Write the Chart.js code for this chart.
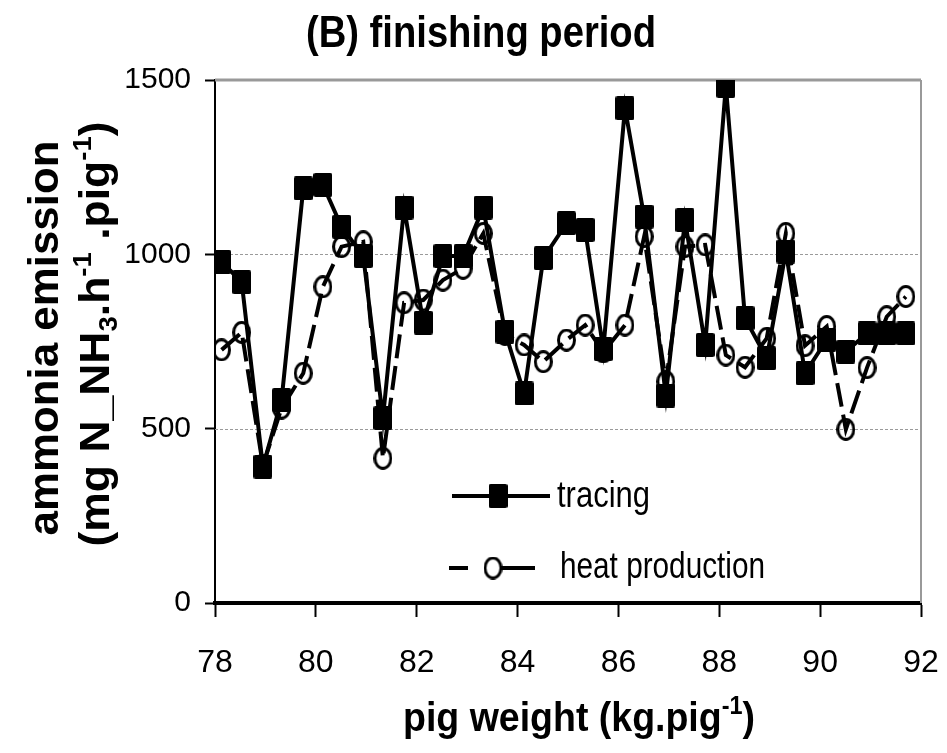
<!DOCTYPE html>
<html>
<head>
<meta charset="utf-8">
<script src="https://cdn.jsdelivr.net/npm/chart.js@4.4.1/dist/chart.umd.min.js"></script>
<style>
html,body{margin:0;padding:0;background:#fff;}
#wrap{position:relative;width:947px;height:753px;}
</style>
</head>
<body>
<div id="wrap"><canvas id="c" width="947" height="753"></canvas></div>
<script>
// ---- data ----
const weights = [78.13,78.53,78.95,79.32,79.75,80.14,80.51,80.94,81.33,81.75,82.13,82.52,82.92,83.32,83.75,84.13,84.51,84.97,85.34,85.70,86.13,86.51,86.94,87.32,87.72,88.13,88.51,88.94,89.32,89.70,90.13,90.51,90.93,91.32,91.70];
const tracing = [979,920,391,582,1189,1199,1079,995,530,1134,804,995,995,1134,778,601,989,1089,1070,728,1419,1108,595,1098,740,1483,817,702,1008,659,755,721,773,773,773];
const heatProduction = [726,776,395,559,659,907,1022,1036,415,861,869,926,960,1060,770,740,692,754,797,720,797,1051,635,1022,1027,711,676,759,1060,738,793,498,675,821,879];
const xTickValues = [78,80,82,84,86,88,90,92];
const yTickValues = [0,500,1000,1500];
const seriesNames = ['tracing','heat production'];
const titleText = '(B) finishing period';

const SANS = '"Liberation Sans", Arial, sans-serif';

// ---- marker images ----
function squareMarker(w,h){
  const c=document.createElement('canvas'); c.width=w; c.height=h;
  const g=c.getContext('2d'); g.fillStyle='#000';
  const r=2; g.beginPath();
  g.moveTo(r,0); g.lineTo(w-r,0); g.quadraticCurveTo(w,0,w,r); g.lineTo(w,h-r); g.quadraticCurveTo(w,h,w-r,h);
  g.lineTo(r,h); g.quadraticCurveTo(0,h,0,h-r); g.lineTo(0,r); g.quadraticCurveTo(0,0,r,0); g.fill();
  return c;
}
function circleMarker(w,h,lw){
  const c=document.createElement('canvas'); c.width=w; c.height=h;
  const g=c.getContext('2d'); g.strokeStyle='#000'; g.lineWidth=lw;
  g.beginPath(); g.ellipse(w/2,h/2,w/2-lw/2,h/2-lw/2,0,0,Math.PI*2); g.stroke();
  return c;
}
const sq = squareMarker(19,24);
const ci = circleMarker(19,23,3);

// ---- rich text helper (scaled to a target width) ----
function drawRich(ctx, segs, size, family, weight, cx, baseY, targetW, align){
  const fontFor = m => weight+' '+(m==='n'?size:Math.round(size*0.62))+'px '+family;
  let total=0; const ws=[];
  segs.forEach(s=>{ctx.font=fontFor(s[1]); const w=ctx.measureText(s[0]).width; ws.push(w); total+=w;});
  const sx = targetW ? targetW/total : 1;
  ctx.save();
  ctx.translate(cx, baseY);
  ctx.scale(sx,1);
  ctx.textAlign='left'; ctx.textBaseline='alphabetic'; ctx.fillStyle='#000';
  let x = align==='left' ? 0 : -total/2;
  segs.forEach((s,i)=>{
    ctx.font=fontFor(s[1]);
    const dy = s[1]==='sup' ? -size*0.42 : (s[1]==='sub' ? size*0.2 : 0);
    ctx.fillText(s[0], x, dy);
    x+=ws[i];
  });
  ctx.restore();
}

const decorPlugin = {
  id:'decor',
  beforeDatasetsDraw(chart){
    const {ctx, chartArea:a, scales:{y}} = chart;
    ctx.save();
    ctx.strokeStyle='#9a9a9a'; ctx.lineWidth=1; ctx.setLineDash([3,2]);
    yTickValues.forEach(v=>{
      if(v>0 && v<1500){
        const py=Math.round(y.getPixelForValue(v))+0.5;
        ctx.beginPath(); ctx.moveTo(a.left,py); ctx.lineTo(a.right,py); ctx.stroke();
      }
    });
    ctx.setLineDash([]);
    ctx.strokeStyle='#999'; ctx.lineWidth=3;
    const pt=y.getPixelForValue(1500);
    ctx.beginPath(); ctx.moveTo(a.left,pt); ctx.lineTo(a.right,pt); ctx.stroke();
    ctx.lineWidth=2;
    ctx.beginPath(); ctx.moveTo(a.right,pt); ctx.lineTo(a.right,a.bottom); ctx.stroke();
    ctx.restore();
  },
  afterDraw(chart){
    const ctx=chart.ctx;
    drawRich(ctx, [[titleText,'n']], 44, SANS, 'bold', 481, 47, 350);
    drawRich(ctx, [['pig weight (kg.pig','n'],['-1','sup'],[')','n']], 40, SANS, 'bold', 579, 731, 352);
    ctx.save(); ctx.translate(58,338); ctx.rotate(-Math.PI/2);
    drawRich(ctx, [['ammonia emission','n']], 42, SANS, 'bold', 0, 0, 395);
    ctx.restore();
    ctx.save(); ctx.translate(109,334); ctx.rotate(-Math.PI/2);
    drawRich(ctx, [['(mg N_NH','n'],['3','sub'],['.h','n'],['-1','sup'],[' .pig','n'],['-1','sup'],[')','n']], 42, SANS, 'bold', 0, 0, 425);
    ctx.restore();
    // legend
    ctx.save();
    ctx.strokeStyle='#000'; ctx.lineWidth=4; ctx.lineCap='butt';
    ctx.beginPath(); ctx.moveTo(452,496); ctx.lineTo(550,496); ctx.stroke();
    ctx.drawImage(sq, 498-sq.width/2, 496-sq.height/2);
    ctx.beginPath(); ctx.moveTo(449,568); ctx.lineTo(468,568); ctx.moveTo(499,568); ctx.lineTo(535,568); ctx.stroke();
    ctx.fillStyle='#fff'; ctx.beginPath(); ctx.ellipse(493,568,8,10,0,0,Math.PI*2); ctx.fill();
    ctx.drawImage(ci, 493-ci.width/2, 568-ci.height/2);
    ctx.restore();
    drawRich(ctx, [[seriesNames[0],'n']], 36, SANS, 'normal', 557, 507, 93, 'left');
    drawRich(ctx, [[seriesNames[1],'n']], 36, SANS, 'normal', 560, 578, 205, 'left');
  }
};

const toPts = arr => arr.map((v,i)=>({x:weights[i], y:v}));

new Chart(document.getElementById('c'), {
  type:'line',
  data:{
    datasets:[
      {label:seriesNames[0], data:toPts(tracing), borderColor:'#000', borderWidth:4, tension:0,
       pointStyle:sq, pointRadius:10, order:2, fill:false},
      {label:seriesNames[1], data:toPts(heatProduction), borderColor:'#000', borderWidth:4, borderDash:[24,8], tension:0,
       pointStyle:ci, pointRadius:10, order:1, fill:false}
    ]
  },
  options:{
    responsive:false, animation:false, events:[],
    layout:{padding:{left:0, top:80, right:26, bottom:0}},
    plugins:{legend:{display:false}, tooltip:{enabled:false}, title:{display:false}},
    scales:{
      x:{type:'linear', min:78, max:92,
         afterBuildTicks(s){ s.ticks = xTickValues.map(v=>({value:v})); },
         afterFit(s){ s.height = 150; s.paddingLeft = 0; s.paddingRight = 0; },
         ticks:{color:'#000', font:{family:SANS, size:32}, padding:27, maxRotation:0, autoSkip:false, callback:v=>String(v)},
         grid:{drawOnChartArea:false, drawTicks:true, tickLength:14, tickColor:'#000', tickWidth:2},
         border:{display:true, color:'#000', width:4}},
      y:{type:'linear', min:0, max:1500,
         afterBuildTicks(s){ s.ticks = yTickValues.map(v=>({value:v})); },
         afterFit(s){ s.width = 215; s.paddingTop = 0; s.paddingBottom = 0; },
         ticks:{color:'#000', font:{family:SANS, size:30}, padding:14, callback:v=>String(v)},
         grid:{drawOnChartArea:false, drawTicks:true, tickLength:10, tickColor:'#000', tickWidth:2},
         border:{display:true, color:'#000', width:2}}
    }
  },
  plugins:[decorPlugin]
});
</script>
</body>
</html>
